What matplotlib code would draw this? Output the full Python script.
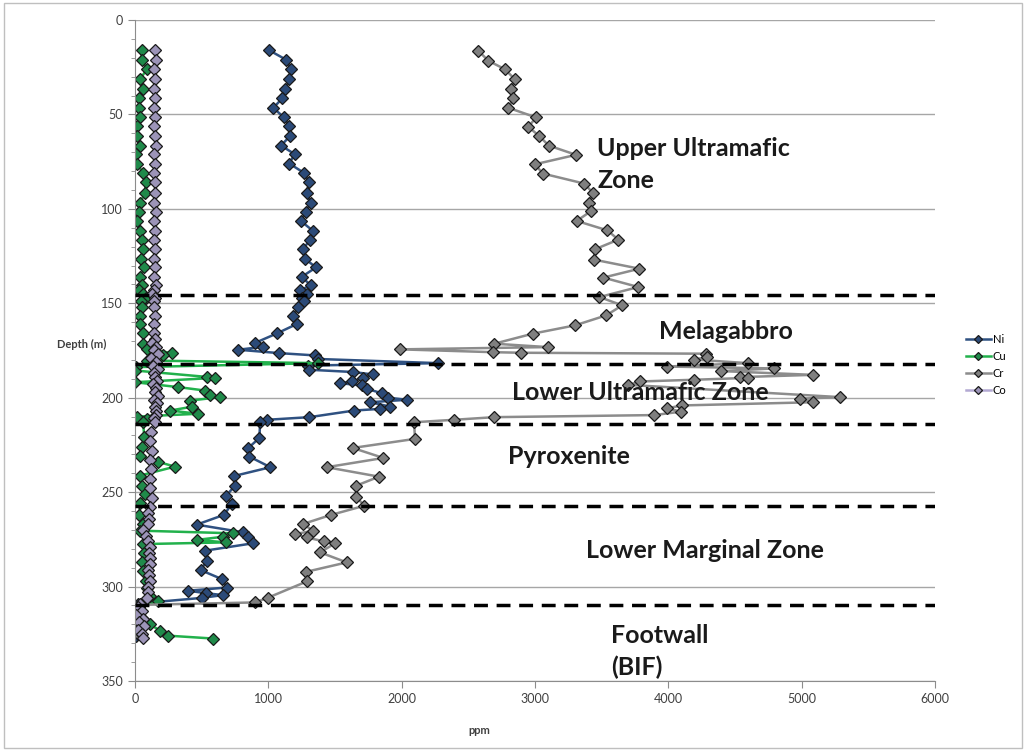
import numpy as np
import matplotlib
matplotlib.use("Agg")
import matplotlib.pyplot as plt
from matplotlib.patches import Rectangle
from matplotlib.ticker import MultipleLocator

plt.rcParams['font.family'] = ['Lato', 'DejaVu Sans']

# Ni
ni_depth = [16, 21, 26, 31.5, 36.5, 41.5, 46.5, 51.5, 56, 61.5, 66.5, 71, 76, 81, 86, 91.5, 97, 101.5,
            106.5, 111.5, 116.5, 121.5, 126.5, 131, 136, 140.5, 143, 145, 147, 149, 152, 157, 161, 166,
            171, 173, 174.6, 176.4, 177.6, 179.5, 181.7, 183, 185.2, 186.4, 187.7, 189.5, 191.4, 192.3,
            193.5, 195.3, 197.6, 200, 201.1, 202.4, 204.7, 205.9, 206.8, 210.3, 211.7, 213, 221.3, 226.6,
            231.2, 236.8, 241.5, 246.6, 251.9, 256.3, 262, 267.2, 271.3, 274, 277.1, 281, 286.3, 291.3,
            296, 300.5, 302.2, 303.5, 304.5, 306, 309, 311, 314, 317, 320, 323, 326]
ni_ppm = [1005, 1132, 1168, 1157, 1128, 1105, 1037, 1115, 1157, 1162, 1095, 1197, 1157, 1268, 1305, 1288,
          1318, 1280, 1245, 1332, 1312, 1258, 1275, 1358, 1250, 1318, 1240, 1290, 1250, 1270, 1225, 1183,
          1213, 1063, 900, 963, 775, 1083, 1350, 1375, 2275, 1300, 1308, 1638, 1783, 1713, 1625, 1538,
          1700, 1738, 1850, 1900, 2038, 1763, 1913, 1838, 1643, 1308, 988, 938, 933, 850, 858, 1015, 740,
          750, 683, 725, 668, 463, 813, 850, 883, 525, 538, 493, 650, 688, 400, 530, 660, 500, 20, 30,
          10, 40, 20, 30, 10]

# Cu
cu_depth = [16, 21, 26, 31.5, 36.5, 41.5, 46.5, 51.5, 56, 61.5, 66.5, 71, 76, 81, 86, 91.5, 97, 101.5,
            106.5, 111.5, 116.5, 121.5,
            126.5, 131, 136, 140.5, 143, 145, 147, 149, 152, 157, 161, 166,
            171.4, 174, 176.4, 177.6, 180.3, 181.7, 183.8, 185.6, 189, 189.5, 191.8, 194.4, 196.2, 198.8,
            199.7, 201.5, 204.8, 206.8, 208.5, 210, 211.2, 213,
            221, 226, 231, 234, 236.5, 241.2, 246.6, 250.8, 256, 262, 267,
            270.4, 271.8, 273.6, 275.3, 276.6, 277.5,
            282, 287, 292, 297, 301, 305, 307.5,
            311, 314, 317, 320, 323.4, 326, 327.5]
cu_ppm = [50, 50, 88, 38, 58, 32, 32, 38, 18, 18, 38, 10, 18, 58, 80, 75, 38, 28, 18, 38, 50, 60,
          45, 70, 40, 55, 30, 60, 80, 45, 50, 35, 40, 60,
          63, 88, 275, 213, 88, 1375, 10, 0, 540, 600, 0, 325, 525, 560, 640, 413, 425, 263, 475, 18, 88, 60,
          70, 50, 40, 175, 300, 38, 50, 75, 40, 30, 60,
          40, 738, 663, 463, 683, 63,
          70, 50, 60, 80, 90, 110, 175,
          30, 20, 60, 113, 188, 250, 583]

# Cr
cr_depth = [16.3, 21.6, 26.1, 31.5, 36.4, 41.5, 46.5, 51.6, 56.6, 61.5, 66.5, 71.4, 76.4, 81.3, 86.6,
            91.4, 96.9, 101.3, 106.4, 111.4, 116.3, 121.4, 126.9, 131.7, 136.4, 141.4, 146.7, 151.1,
            156.4, 161.7, 166.1, 171.4, 173.2, 174.4, 175.9, 176.2, 176.7, 178.5, 179.8, 181.7, 183.5,
            184.5, 185.9, 187.9, 189.1, 189.5, 190.5, 191.4, 193.2, 199.7, 200.5, 202.4, 204.1, 205.6,
            207.4, 209.2, 210.3, 211.7, 213.0, 221.8, 226.6, 231.9, 236.8, 241.8, 246.6, 252.4, 257.2,
            262.1, 266.9, 270.4, 272.2, 274.0, 276.1, 277.1, 281.9, 287.2, 292.2, 297.3, 305.8, 308.4,
            309.7, 313, 316, 319, 322, 325]
cr_ppm = [2575, 2650, 2775, 2850, 2818, 2838, 2800, 3008, 2950, 3033, 3103, 3308, 3000, 3058, 3368,
          3433, 3408, 3418, 3313, 3543, 3625, 3450, 3443, 3783, 3513, 3775, 3483, 3654,
          3534, 3300, 2983, 2695, 3095, 1990, 2688, 2897, 4286, 4290, 4194, 4595, 3993,
          4790, 4395, 5084, 4538, 4595, 4194, 3790, 3700, 5290, 4990, 5084, 4100, 3993,
          4094, 3893, 2695, 2391, 2093, 2100, 1633, 1863, 1438, 1830, 1658, 1658, 1720,
          1468, 1258, 1338, 1200, 1288, 1418, 1500, 1388, 1588, 1283, 1288, 1000, 900,
          30, 20, 40, 10, 30, 20]

# Co
co_depth = [16, 21, 26, 31.5, 36.5, 41.5, 46.5, 51.5, 56, 61.5, 66.5, 71, 76, 81, 86, 91.5, 97, 101.5,
            106.5, 111.5, 116.5, 121.5, 126.5, 131, 136, 140.5, 143, 145, 147, 149, 152, 157, 161, 166,
            169, 171, 173, 175, 177, 179, 181, 183, 185, 187, 189, 191, 193, 195, 197, 199, 201, 203,
            205, 207, 209, 211, 213,
            218, 223, 228, 233, 238, 243, 248, 253, 258, 261, 264, 267, 270, 273, 276, 279, 282, 285,
            288, 291, 294, 297, 300, 303, 306, 309,
            311, 313, 315, 317, 319, 321, 323, 325, 327]
co_ppm = [150, 155, 145, 150, 140, 150, 145, 150, 140, 148, 155, 145, 150, 140, 148, 150, 145, 155,
          140, 150, 145, 150, 140, 150, 145, 155, 140, 130, 150, 145, 140, 150, 145, 140,
          150, 130, 160, 140, 175, 120, 160, 135, 170, 145, 150, 165, 135, 160, 150, 170, 140, 165,
          150, 160, 155, 140, 150,
          120, 110, 125, 115, 120, 110, 115, 125, 110, 100, 105, 95, 60, 80, 100, 110, 105, 115,
          110, 100, 105, 110, 95, 100, 90, 40,
          20, 50, 10, 60, 30, 70, 20, 50, 60]

boundaries = [145.5, 182, 213.7, 257.6, 309.8]
zone_labels = ["Upper Ultramafic\nZone", "Melagabbro", "Lower Ultramafic Zone", "Pyroxenite",
               "Lower Marginal Zone", "Footwall\n(BIF)"]
label_x = [3465, 3930, 2830, 2800, 3380, 3570]
label_y = [76.5, 165, 197, 231, 281, 334.5]

fig = plt.figure(figsize=(10.26, 7.51), dpi=100)
ax = fig.add_axes([0.1316, 0.0932, 0.7797, 0.8802])

styles = [("Ni", ni_ppm, ni_depth, "#2F5181", "#2B4A78"),
          ("Cu", cu_ppm, cu_depth, "#22B14C", "#1F8A4A"),
          ("Cr", cr_ppm, cr_depth, "#8C8C8C", "#7F7F7F"),
          ("Co", co_ppm, co_depth, "#B3A9D3", "#9C94B8")]
for name, x, y, lc, fc in styles:
    ax.plot(x, y, color=lc, lw=1.8, marker="D", markersize=6.5, markerfacecolor=fc,
            markeredgecolor="#1A1A1A", markeredgewidth=0.9, label=name)

for b in boundaries:
    ax.axhline(b, color="black", lw=2.5, ls=(0, (4, 2.5)), zorder=5)

for t, x, y in zip(zone_labels, label_x, label_y):
    ax.text(x, y, t, fontsize=18, fontweight="bold", color="#1A1A1A", ha="left", va="center",
            linespacing=1.45, zorder=6)

ax.set_xlim(0, 6000)
ax.set_ylim(350, 0)
ax.xaxis.set_major_locator(MultipleLocator(1000))
ax.yaxis.set_major_locator(MultipleLocator(50))
ax.yaxis.set_minor_locator(MultipleLocator(10))
ax.grid(axis="y", which="major", color="#A6A6A6", lw=1)
ax.set_axisbelow(True)
for s in ["top", "right"]:
    ax.spines[s].set_visible(False)
for s in ["left", "bottom"]:
    ax.spines[s].set_color("#8C8C8C")
ax.tick_params(axis="both", which="major", colors="#8C8C8C", labelcolor="#404040", labelsize=9, length=5)
ax.tick_params(axis="y", which="minor", colors="#8C8C8C", length=3)

ax.set_ylabel("Depth (m)", rotation=0, fontsize=8, fontweight="bold", color="#404040")
ax.yaxis.set_label_coords(-0.067, 0.5)
ax.set_xlabel("ppm", fontsize=8, fontweight="bold", color="#404040")
ax.xaxis.set_label_coords(0.431, -0.066)

fig.legend(loc="center left", bbox_to_anchor=(0.932, 0.514), frameon=False, fontsize=8,
           handlelength=2.2, labelspacing=0.55, handletextpad=0.2, markerscale=0.7)

fig.patches.append(Rectangle((0.004, 0.004), 0.992, 0.992, transform=fig.transFigure,
                             fill=False, edgecolor="#BFBFBF", lw=1))

plt.savefig("out.png", dpi=100)
